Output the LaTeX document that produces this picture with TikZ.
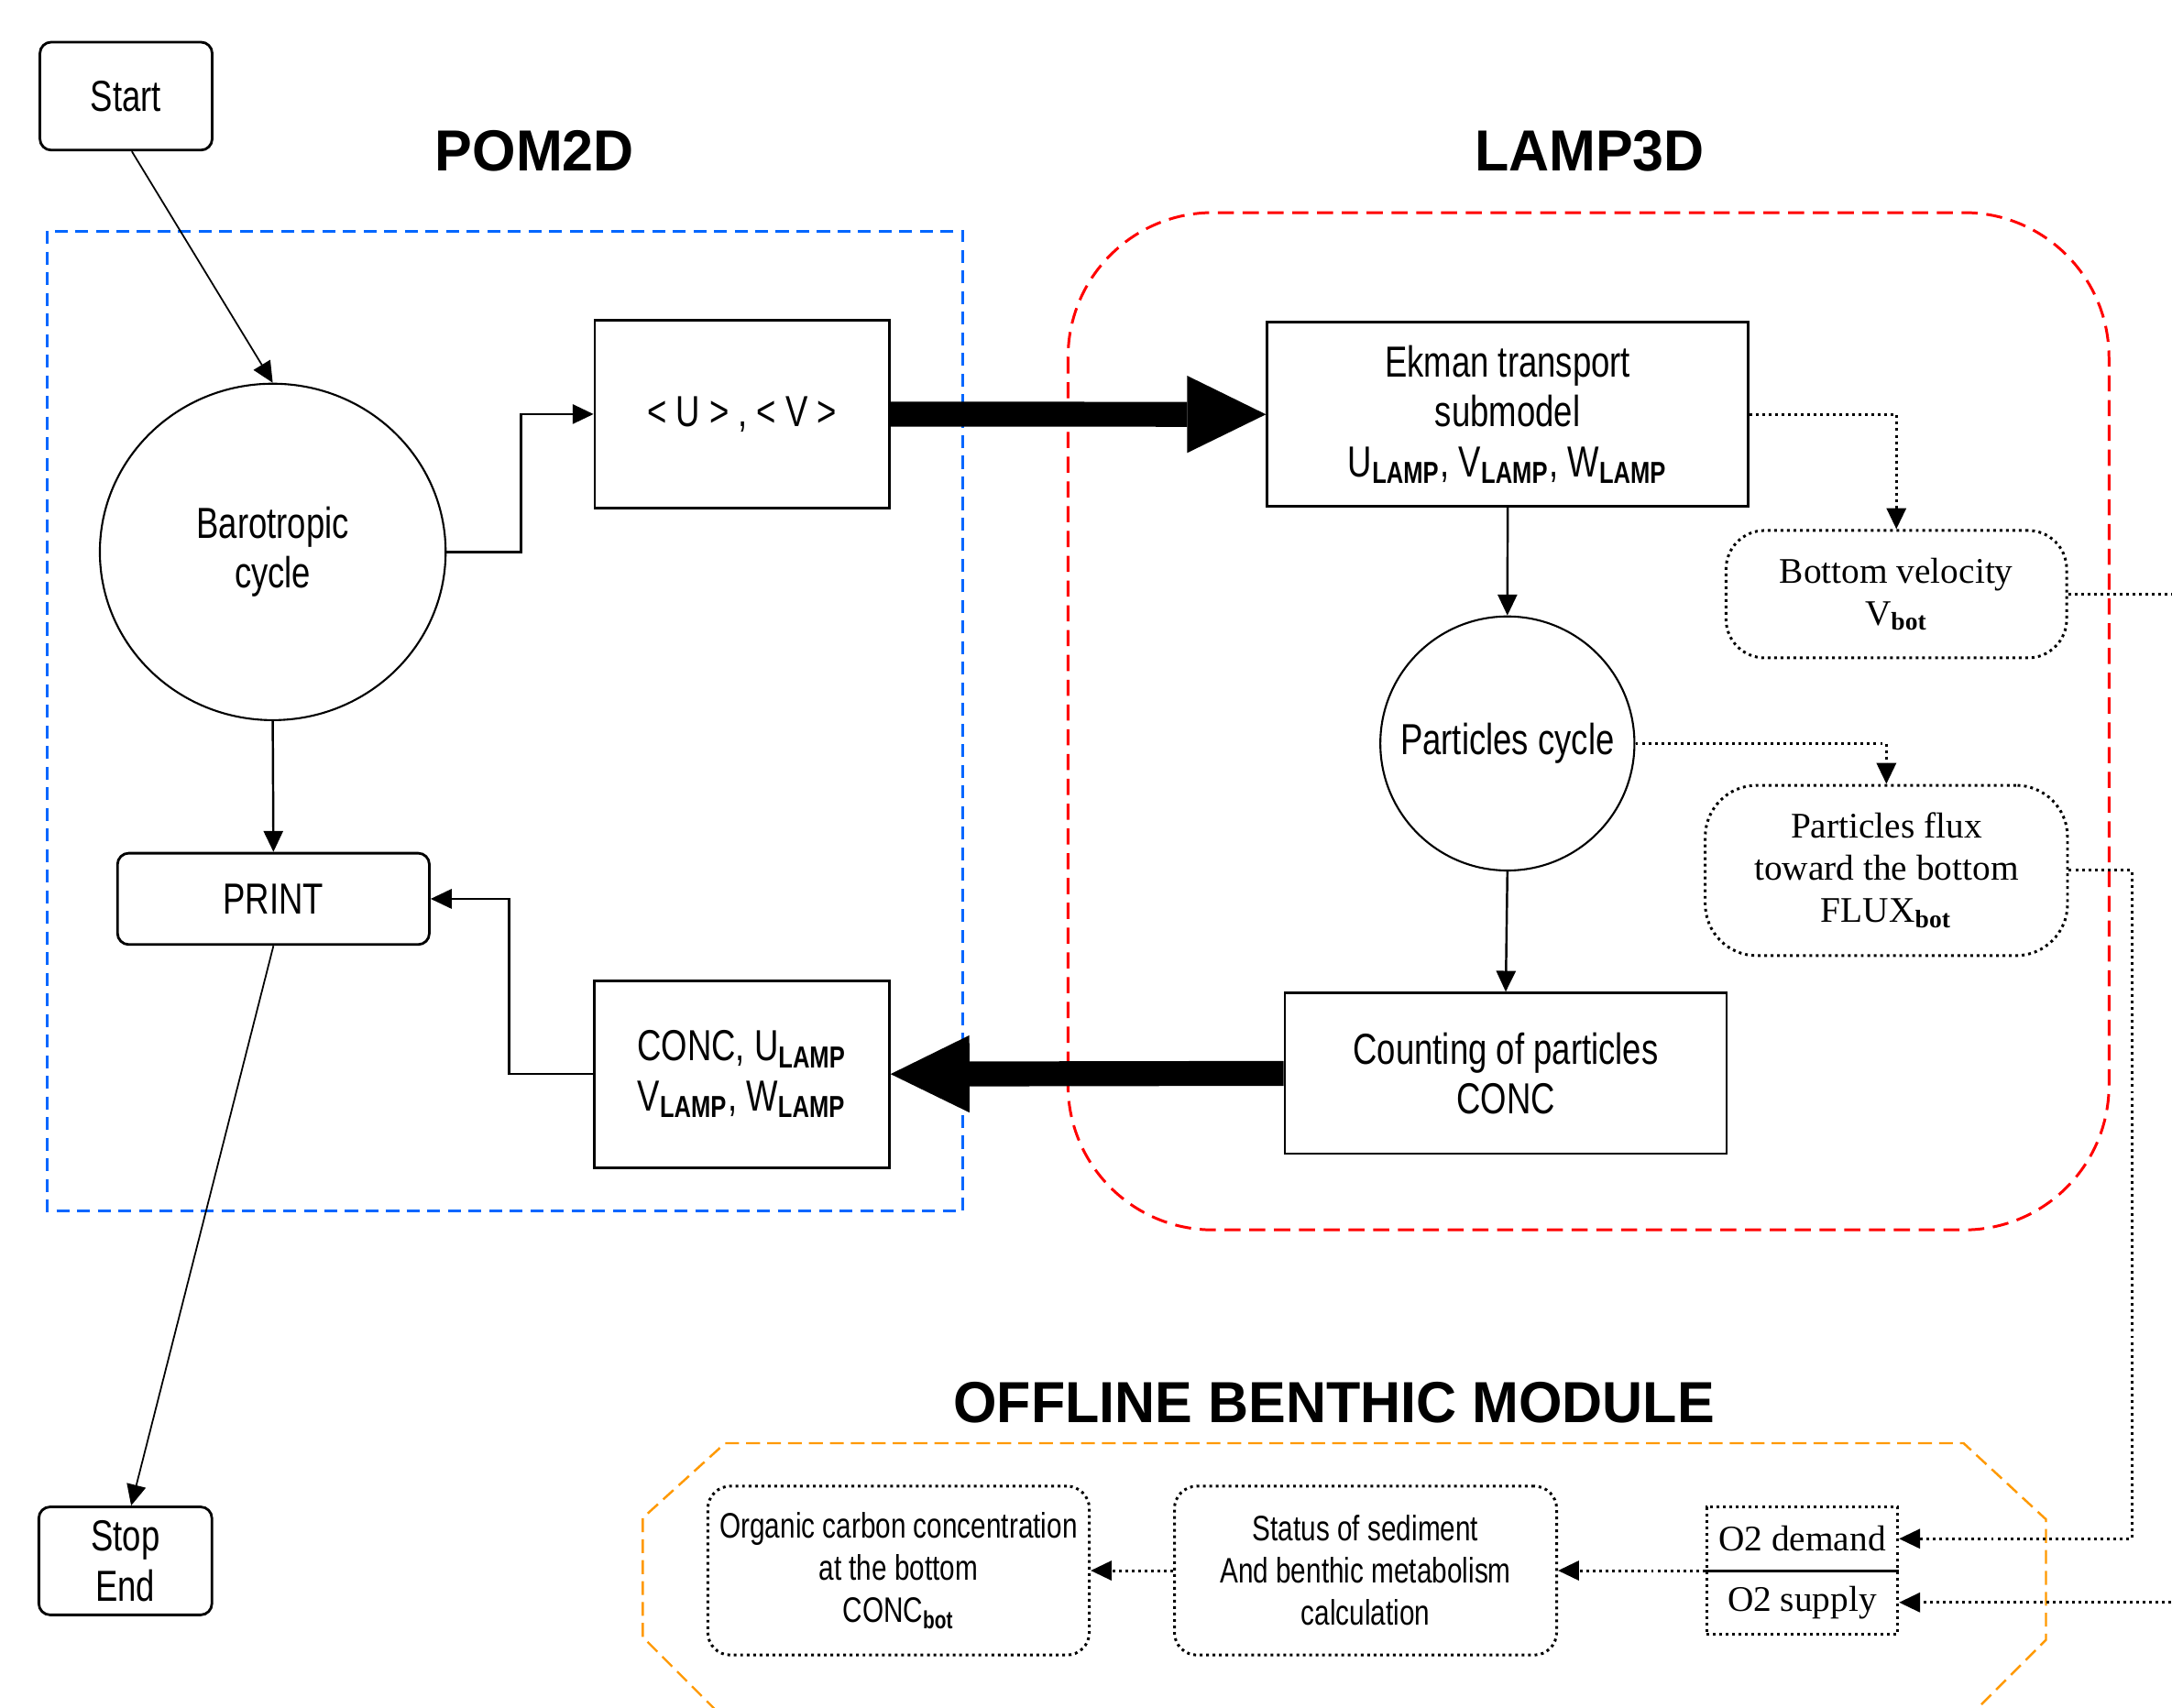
\documentclass[tikz,border=0pt]{standalone}
\usepackage{fontspec}
\setmainfont{Liberation Sans}[FakeStretch=0.77]
\newfontfamily\titlefont{Liberation Sans}[FakeStretch=0.965]
\newfontfamily\serffont{Liberation Serif}
\usetikzlibrary{arrows.meta,shapes.geometric}
\newcommand\lsub[1]{\textsubscript{\bfseries #1}}
\definecolor{pomblue}{RGB}{0,102,255}
\definecolor{lampred}{RGB}{255,0,0}
\definecolor{benthorange}{RGB}{255,153,0}
\tikzset{
  wh/.style 2 args={minimum width={#1*0.4301pt}, minimum height={#2*0.4301pt}},
  txt/.style={font=\fontsize{13.5}{15.5}\selectfont},
  serf/.style={font=\serffont\fontsize{11.2}{13.1}\selectfont},
  bfont/.style={font=\fontsize{11}{13.1}\selectfont},
  ttl/.style={font=\titlefont\bfseries\fontsize{18}{20}\selectfont},
  box/.style={draw, line width=0.8pt, txt},
  rbox/.style={box, rounded corners=3.5pt},
  circ/.style={draw, line width=0.6pt, ellipse, txt},
  dotl/.style={line width=0.85pt, dash pattern=on 0.85pt off 1.15pt},
  dbox/.style={draw, dotl, rounded corners=#1},
  dsq/.style={draw, dotl},
  conn/.style={line width=0.7pt},
  thinl/.style={line width=0.5pt},
  sarr/.style={-{Triangle[length=6.5pt,width=6pt]}},
  big/.style={line width=7.74pt, -{Triangle[length=24.5pt,width=24pt,line width=0pt]}}
}
\begin{document}
\begin{tikzpicture}[x=0.015115cm, y=-0.015115cm, every node/.style={inner sep=0pt, align=center}]
\useasboundingbox (0,0) rectangle (1568,1233);
\clip (0,0) rectangle (1568,1233);
\fill[white] (0,0) rectangle (1568,1233);

% frames
\draw[pomblue, line width=0.85pt, dash pattern=on 4pt off 2.4pt] (33.9,166.9) rectangle (695.3,874);
\draw[lampred, line width=0.85pt, dash pattern=on 5pt off 2.7pt, rounded corners=45pt] (771,153.5) rectangle (1522.5,888);
\draw[benthorange, line width=0.7pt, dash pattern=on 4.3pt off 2.2pt]
  (560,1278) -- (464,1182) -- (464,1096) -- (523.5,1042) -- (1417.5,1042) -- (1477,1097) -- (1477,1184) -- (1381,1280);

% titles
\node[ttl] (tpom) at (386,109) {POM2D};
\node[ttl] (tlamp) at (1147.5,109) {LAMP3D};
\node[ttl] (tbent) at (963,1012.7) {OFFLINE BENTHIC MODULE};

% nodes
\node[rbox, wh={124.4}{78}] (start) at (91,69.4) {Start};
\node[circ, wh={249.7}{243}] (baro) at (196.9,398.5) {Barotropic\\cycle};
\node[box, wh={212.6}{136}] (uv) at (535.7,299) {< U > , < V >};
\node[box, wh={347.2}{133}] (ekman) at (1088.4,299.2) {Ekman transport\\submodel\\U\lsub{LAMP}, V\lsub{LAMP}, W\lsub{LAMP}};
\node[circ, wh={183.5}{183.5}] (pcyc) at (1088.2,536.8) {\makebox[0pt]{Particles cycle}};
\node[box, wh={319}{116}] (count) at (1087,775) {Counting of particles\\CONC};
\node[box, wh={213}{135}] (conc) at (535.5,775.5) {CONC, U\lsub{LAMP}\\V\lsub{LAMP}, W\lsub{LAMP}};
\node[rbox, wh={225.2}{66}] (print) at (197.4,649) {PRINT};
\node[rbox, wh={125}{78}] (stop) at (90.5,1127) {Stop\\End};
\node[dbox=12pt, serf, wh={246}{92}] (bvel) at (1369,429) {Bottom velocity\\V\lsub{bot}};
\node[dbox=16pt, serf, wh={261.6}{123}] (flux) at (1361.8,628.5) {Particles flux\\toward the bottom\\FLUX\lsub{bot}};
\node[dbox=7pt, bfont, wh={275.5}{122}] (org) at (648.7,1134) {Organic carbon concentration\\at the bottom\\CONC\lsub{bot}};
\node[dbox=7pt, bfont, wh={276}{122}] (stat) at (985.8,1134) {Status of sediment\\And benthic metabolism\\calculation};
\node[dsq, wh={138}{91.4}] (o2) at (1301,1134) {};
\node[serf] (o2d) at (1301,1111) {O2 demand};
\node[serf] (o2s) at (1301,1157) {O2 supply};
\draw[line width=0.85pt] (o2.west) -- (o2.east);

% connectors
\draw[thinl, sarr] ([xshift=1.8pt]start.south) -- (baro.north);
\draw[conn, sarr] (baro.east) -- ++(53.8,0) |- (uv.west);
\draw[big] (uv.east) -- (ekman.west);
\draw[conn, sarr] (ekman.south) -- (pcyc.north);
\draw[conn, sarr] (pcyc.south) -- (count.north);
\draw[big] (count.west) -- (conc.east);
\draw[conn, sarr] (conc.west) -- ++(-60.6,0) |- (print.east);
\draw[conn, sarr] (baro.south) -- (print.north);
\draw[thinl, sarr] (print.south) -- ([xshift=1.8pt]stop.north);
\draw[dotl, sarr] (ekman.east) -| (bvel.north);
\draw[dotl, sarr] (pcyc.east) -| (flux.north);
\coordinate (vout) at (1572,429);
\draw[dotl] (bvel.east) -- (vout);
\draw[dotl, sarr] (flux.east) -- ++(45.4,0) |- (o2.east |- o2d);
\coordinate (sin) at (1572,1157);
\draw[dotl, sarr] (sin) -- (o2.east |- o2s);
\draw[dotl, sarr] (o2.west) -- (stat.east);
\draw[dotl, sarr] (stat.west) -- (org.east);
\end{tikzpicture}
\end{document}
